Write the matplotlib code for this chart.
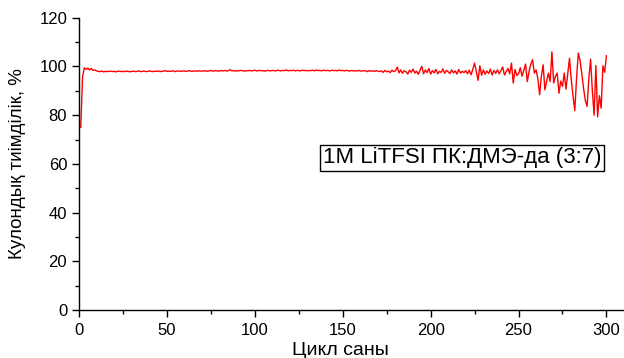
import numpy as np
import matplotlib.pyplot as plt
from matplotlib.ticker import MultipleLocator

plt.rcParams['font.family'] = ['Liberation Sans', 'DejaVu Sans']

# Coulombic efficiency (%) per cycle, cycles 1..300
ce_start = [75.0, 95.5, 99.5, 98.8, 99.3, 98.6, 99.2, 98.4, 98.6, 98.2]
ce_stable = [
    98.0, 97.9, 98.1, 97.8, 98.0, 97.9, 98.0, 98.1, 97.9, 98.0,
    97.8, 98.0, 98.1, 97.9, 98.0, 97.9, 98.1, 98.0, 97.8, 98.0,
    98.1, 97.9, 98.0, 98.2, 97.9, 98.0, 98.1, 97.9, 98.0, 98.2,
    98.0, 97.9, 98.1, 98.0, 98.2, 97.9, 98.0, 98.1, 98.3, 98.0,
    98.1, 98.0, 98.2, 98.1, 97.9, 98.2, 98.1, 98.0, 98.2, 98.1,
    98.0, 98.2, 98.3, 98.0, 98.1, 98.2, 98.0, 98.3, 98.1, 98.2,
    98.1, 98.3, 98.0, 98.2, 98.4, 98.1, 98.2, 98.3, 98.1, 98.2,
    98.3, 98.2, 98.4, 98.1, 98.3, 98.7, 98.2, 98.3, 98.1, 98.3,
    98.2, 98.4, 98.3, 98.1, 98.3, 98.2, 98.4, 98.2, 98.3, 98.5,
    98.2, 98.3, 98.4, 98.2, 98.3, 98.1, 98.4, 98.3, 98.2, 98.4,
    98.3, 98.2, 98.5, 98.3, 98.2, 98.4, 98.3, 98.6, 98.2, 98.4,
    98.3, 98.5, 98.2, 98.4, 98.3, 98.2, 98.5, 98.3, 98.4, 98.2,
    98.4, 98.3, 98.5, 98.2, 98.6, 98.3, 98.4, 98.2, 98.5, 98.3,
    98.4, 98.3, 98.2, 98.5, 98.3, 98.4, 98.2, 98.6, 98.3, 98.4,
    98.2, 98.4, 98.3, 98.1, 98.4, 98.2, 98.3, 98.1, 98.4, 98.2,
    98.1, 98.3, 98.2, 97.9, 98.3, 98.1, 98.2, 98.0, 98.3, 98.1,
]
ce_noisy = [
    97.9, 98.2, 97.6, 98.4, 97.8, 98.1, 97.5, 98.5, 97.9, 98.2,
    99.8, 97.4, 98.6, 97.2, 98.3, 97.8, 96.9, 98.5, 97.6, 98.9,
    97.3, 98.1, 96.8, 98.4, 100.1, 97.0, 98.6, 97.5, 99.2, 96.9,
    98.3, 97.4, 98.8, 97.0, 98.0, 97.6, 99.0, 97.2, 98.4, 97.8,
    97.1, 98.6, 97.4, 98.2, 96.9, 98.8, 97.3, 98.0, 97.5, 98.3,
    97.0, 98.5, 96.6, 98.9, 101.4, 97.8, 94.3, 100.3, 96.4, 98.6,
    96.8, 98.2, 97.1, 98.9, 96.5, 98.4, 97.2, 98.6, 97.0, 98.3,
    99.8, 96.5, 97.9, 99.2, 97.0, 101.4, 93.2, 98.8, 96.3, 97.0,
    99.5, 96.0, 98.4, 101.0,
]
ce_end = [
    93.8, 98.0, 101.0, 102.8, 97.3, 98.6, 95.0, 88.4, 96.0, 100.7,
    90.4, 94.0, 97.3, 93.8, 106.0, 93.2, 96.0, 97.3, 89.0, 94.0,
    91.8, 97.3, 90.7, 97.0, 103.4, 94.6, 88.0, 81.9, 95.0, 105.5,
    102.5, 97.0, 91.0, 86.0, 83.6, 95.0, 103.0, 90.0, 80.0, 100.4,
    79.3, 88.0, 82.9, 100.3, 97.6, 104.4,
]

efficiency = np.array(ce_start + ce_stable + ce_noisy + ce_end)
cycles = np.arange(1, len(efficiency) + 1)

fig = plt.figure(figsize=(6.24, 3.58), dpi=100)
ax = fig.add_axes([0.1266, 0.134, 0.8734, 0.8163])

ax.plot(cycles, efficiency, color='#ff0000', lw=1.0)

ax.set_xlim(0, 310)
ax.set_ylim(0, 120)
ax.xaxis.set_major_locator(MultipleLocator(50))
ax.xaxis.set_minor_locator(MultipleLocator(25))
ax.yaxis.set_major_locator(MultipleLocator(20))
ax.yaxis.set_minor_locator(MultipleLocator(10))
ax.tick_params(which='major', direction='out', length=5, width=1, labelsize=12)
ax.tick_params(which='minor', direction='out', length=3, width=1)
ax.tick_params(axis='x', pad=4)

for side in ('top', 'right'):
    ax.spines[side].set_visible(False)
for side in ('left', 'bottom'):
    ax.spines[side].set_linewidth(1.0)

# axis titles placed in figure coordinates so they sit near the edges
fig.text(0.545, 0.022, 'Цикл саны', fontsize=14, ha='center', va='center')
ax.set_ylabel('Кулондық тиімділік, %', fontsize=13.5)
ax.yaxis.set_label_coords(-0.097, 0.5)

ax.text(218, 62.5, '1M LiTFSI ПК:ДМЭ-да (3:7)', fontsize=16,
        ha='center', va='center',
        bbox=dict(boxstyle='square,pad=0.12', fc='white', ec='black', lw=1))

fig.savefig('out.png', dpi=100)
